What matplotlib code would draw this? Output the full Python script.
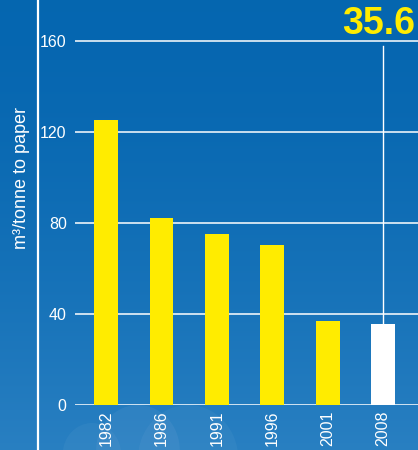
import numpy as np
import matplotlib.pyplot as plt

years = ['1982', '1986', '1991', '1996', '2001', '2008']
water_use = [125.3, 82.2, 75.2, 70.3, 36.9, 35.6]
y_ticks = [0, 40, 80, 120, 160]

YELLOW = '#ffec00'
plt.rcParams['font.family'] = ['Liberation Sans', 'DejaVu Sans']

fig = plt.figure(figsize=(4.18, 4.5), dpi=100)

# sky-blue backdrop, darker at the top
bg = fig.add_axes([0, 0, 1, 1], zorder=-10)
grad = np.linspace(0, 1, 256).reshape(-1, 1)
top = np.array([0.02, 0.40, 0.69])
bottom = np.array([0.16, 0.50, 0.76])
img = top + (bottom - top) * grad[..., None] ** 1.6
bg.imshow(img, aspect='auto', extent=[0, 1, 0, 1], origin='upper')
bg.set_xlim(0, 1)
bg.set_ylim(0, 1)
bg.axis('off')
# a faint cloud low down
for cx, cy, r, a in [(0.33, 0.0, 0.10, 0.05), (0.45, -0.02, 0.12, 0.04), (0.22, -0.01, 0.07, 0.04)]:
    bg.add_patch(plt.Circle((cx, cy), r, color='white', alpha=a, lw=0))
bg.axvline(38 / 418, color='white', lw=1.6)

ax = fig.add_axes([75 / 418, 0.1, 1 - 75 / 418, 398 / 450])
ax.patch.set_alpha(0)
x = np.arange(len(years))
colors = [YELLOW] * (len(years) - 1) + ['white']
ax.bar(x, water_use, width=0.43, color=colors, zorder=3)

ax.set_xlim(-0.56, 5.63)
ax.set_ylim(0, 175)
ax.set_yticks(y_ticks)
for t in y_ticks:
    ax.axhline(t, color='white', lw=1.1, zorder=2)
for s in ax.spines.values():
    s.set_visible(False)
ax.tick_params(axis='both', length=0, colors='white', labelsize=11.5)
ax.tick_params(axis='y', pad=6)
ax.tick_params(axis='x', pad=4)
ax.set_xticks(x)
ax.set_xticklabels(years, rotation=90, fontsize=11.5)

# callout for the latest value
ax.plot([x[-1], x[-1]], [water_use[-1], 158], color='white', lw=1, zorder=3)
ax.text(5.57, 163, f'{water_use[-1]:.1f}', color=YELLOW, fontsize=27,
        fontweight='bold', ha='right', va='baseline')

fig.text(22 / 418, 1 - 178 / 450, 'm³/tonne to paper', rotation=90, color='white',
         fontsize=13, ha='center', va='center')

fig.savefig('out.png', dpi=100)
